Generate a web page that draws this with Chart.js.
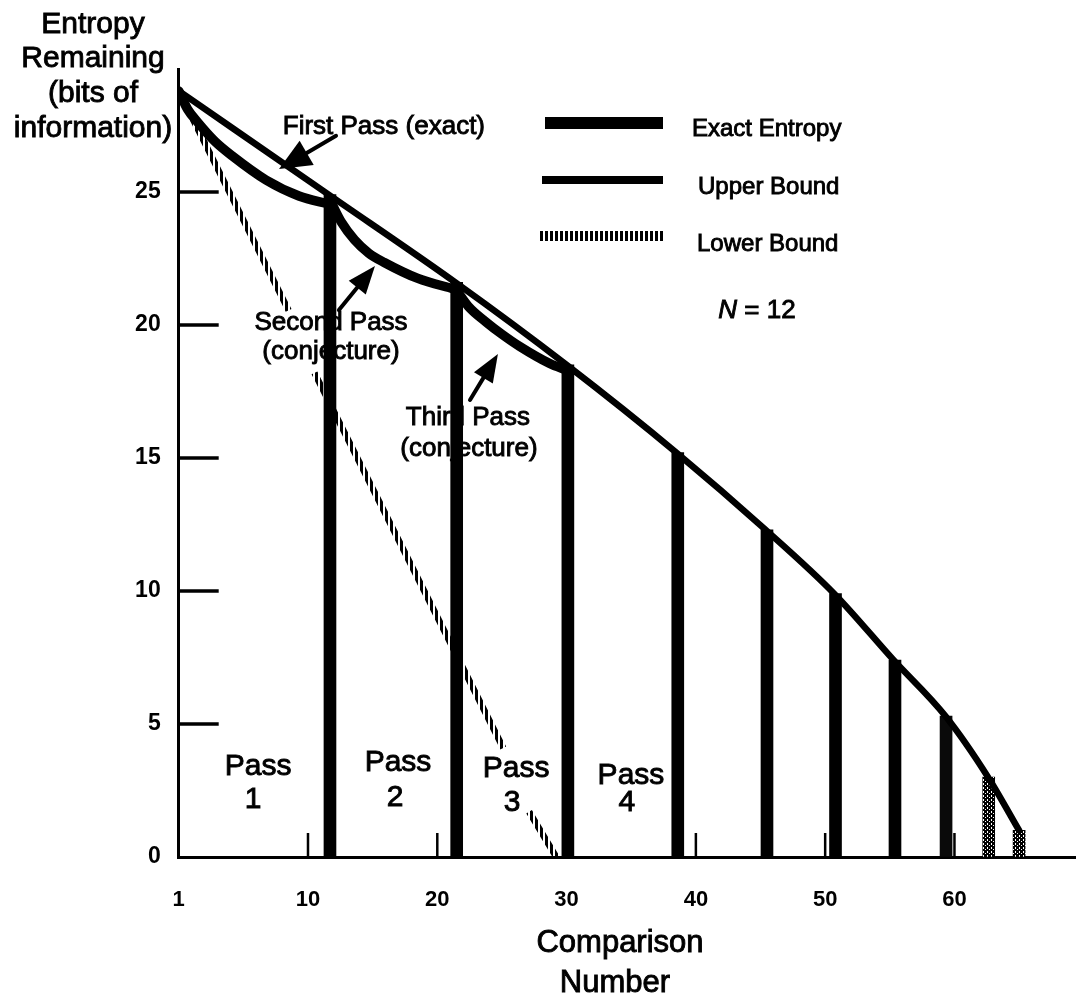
<!DOCTYPE html>
<html>
<head>
<meta charset="utf-8">
<script src="https://cdn.jsdelivr.net/npm/chart.js@4/dist/chart.umd.min.js"></script>
<style>
html,body{margin:0;padding:0;background:#fff;overflow:hidden}
#wrap{position:relative;width:1076px;height:1006px}
</style>
</head>
<body>
<div id="wrap"><canvas id="c"></canvas></div>
<script>
// ---------------- data ----------------
const upperX = [0, 11.6, 21.4, 30.0, 38.5, 45.4, 50.7, 55.3, 59.3, 62.6, 65.0];
const upperY = [28.8, 24.9, 21.6, 18.5, 15.2, 12.3, 9.9, 7.4, 5.3, 3.0, 1.0];

const pass1X = [0, 0.7, 1.5, 2.8, 4.15, 6.75, 9.3, 11.6];
const pass1Y = [28.8, 28.1, 27.6, 26.9, 26.35, 25.45, 24.85, 24.55];
const pass2X = [11.7, 12.6, 13.6, 14.7, 15.9, 18.5, 21.3];
const pass2Y = [24.7, 23.85, 23.2, 22.7, 22.35, 21.75, 21.35];
const pass3X = [21.5, 22.4, 23.8, 25.0, 26.35, 28.7, 30.0];
const pass3Y = [21.3, 20.7, 20.1, 19.65, 19.2, 18.55, 18.3];

const barX = [11.7, 21.5, 30.1, 38.6, 45.5, 50.8, 55.4, 59.35, 62.65, 65.0];
const barY = [24.9, 21.6, 18.5, 15.2, 12.3, 9.9, 7.4, 5.3, 3.0, 1.0];

const lowerX = [0, 8.5, null, 10.5, 25.1, null, 27.1, 29.2];
const lowerY = [28.8, 20.55, null, 18.2, 4.1, null, 1.7, 0];

const xTicks = [0, 10, 20, 30, 40, 50, 60];
const xTickLabels = ['1', '10', '20', '30', '40', '50', '60'];
const yTicks = [0, 5, 10, 15, 20, 25];

const legendLabels = ['Exact Entropy', 'Upper Bound', 'Lower Bound'];
const yTitleLines = ['Entropy', 'Remaining', '(bits of', 'information)'];
const xTitleLines = ['Comparison', 'Number'];

// annotation texts placed in data units
const notes = [
  {t: 'First Pass (exact)', x: 15.87, y: 27.44},
  {t: 'Second Pass', x: 11.78, y: 20.08},
  {t: '(conjecture)', x: 11.78, y: 18.98},
  {t: 'Third Pass', x: 22.37, y: 16.50},
  {t: '(conjecture)', x: 22.45, y: 15.34}
];
const passNotes = [
  {t: 'Pass', x: 6.14, y: 3.38}, {t: '1', x: 5.75, y: 2.14},
  {t: 'Pass', x: 16.96, y: 3.53}, {t: '2', x: 16.73, y: 2.22},
  {t: 'Pass', x: 26.09, y: 3.31}, {t: '3', x: 25.78, y: 2.03},
  {t: 'Pass', x: 34.98, y: 3.05}, {t: '4', x: 34.67, y: 2.03}
];
const arrows = [
  {x1: 12.17, y1: 27.11, x2: 7.76, y2: 25.86, head: 32, hw: 14},
  {x1: 12.39, y1: 20.56, x2: 15.18, y2: 22.22, head: 28, hw: 11},
  {x1: 22.53, y1: 17.18, x2: 24.69, y2: 18.91, head: 28, hw: 11}
];
const nNote = {x: 44.73, y: 20.53};

// ---------------- styling ----------------
const FONT = "'Liberation Sans', Arial, Helvetica, sans-serif";
Chart.defaults.font.family = FONT;
Chart.defaults.color = '#000';

const canvas = document.getElementById('c');
const c2d = canvas.getContext('2d');
function tile(w, h, paint) {
  const t = document.createElement('canvas'); t.width = w; t.height = h;
  const g = t.getContext('2d'); paint(g); return c2d.createPattern(t, 'repeat');
}
const hatch = tile(5, 5, g => { g.fillStyle = '#000'; g.fillRect(0, 0, 3, 5); });
const stipple = tile(4, 4, g => { g.fillStyle = '#000'; g.fillRect(0, 0, 4, 4);
  g.fillStyle = '#fff'; g.fillRect(1, 1, 1, 1); g.fillRect(3, 3, 1, 1); g.fillRect(3, 0, 1, 1); });

const barColors = ['#000', '#000', '#000', '#000', '#000', '#000', '#000', '#0a0a0a', stipple, stipple];

const pts = (xs, ys) => xs.map((x, i) => (x === null ? {x: null, y: null} : {x: x, y: ys[i]}));

const lineBase = {type: 'line', borderColor: '#000', pointRadius: 0, fill: false,
  cubicInterpolationMode: 'monotone', borderCapStyle: 'round', borderJoinStyle: 'round'};

function drawArrow(ctx, x1, y1, x2, y2, head, hw) {
  const a = Math.atan2(y2 - y1, x2 - x1);
  const bx = x2 - head * Math.cos(a), by = y2 - head * Math.sin(a);
  ctx.lineWidth = 4;
  ctx.beginPath(); ctx.moveTo(x1, y1); ctx.lineTo(bx, by); ctx.stroke();
  ctx.beginPath();
  ctx.moveTo(x2, y2);
  ctx.lineTo(bx + hw * Math.sin(a), by - hw * Math.cos(a));
  ctx.lineTo(bx - hw * Math.sin(a), by + hw * Math.cos(a));
  ctx.closePath(); ctx.fill();
}
function boldText(ctx, t, x, y) {
  ctx.fillText(t, x, y);
  ctx.lineWidth = 0.9; ctx.strokeText(t, x, y);
}

const decor = {
  id: 'decor',
  beforeDatasetsDraw(chart) {
    const {ctx} = chart; const xs = chart.scales.x, ys = chart.scales.y;
    ctx.save(); ctx.strokeStyle = '#000'; ctx.lineCap = 'butt';
    ctx.lineWidth = 3.5;
    yTicks.forEach(v => { if (v === 0) return; const p = ys.getPixelForValue(v);
      ctx.beginPath(); ctx.moveTo(xs.left, p); ctx.lineTo(xs.left + 40, p); ctx.stroke(); });
    ctx.lineWidth = 2.5;
    xTicks.forEach(v => { if (v === 0) return; const p = xs.getPixelForValue(v);
      ctx.beginPath(); ctx.moveTo(p, ys.bottom); ctx.lineTo(p, ys.bottom - 24); ctx.stroke(); });
    ctx.restore();
  },
  afterDatasetsDraw(chart) {
    const {ctx} = chart; const xs = chart.scales.x, ys = chart.scales.y;
    ctx.save();
    ctx.fillStyle = '#000'; ctx.strokeStyle = '#000'; ctx.lineCap = 'round';
    arrows.forEach(a => drawArrow(ctx, xs.getPixelForValue(a.x1), ys.getPixelForValue(a.y1),
      xs.getPixelForValue(a.x2), ys.getPixelForValue(a.y2), a.head, a.hw));
    ctx.textAlign = 'center'; ctx.textBaseline = 'middle';
    ctx.font = '26px ' + FONT;
    notes.forEach(n => boldText(ctx, n.t, xs.getPixelForValue(n.x), ys.getPixelForValue(n.y)));
    ctx.font = '30px ' + FONT;
    passNotes.forEach(n => boldText(ctx, n.t, xs.getPixelForValue(n.x), ys.getPixelForValue(n.y)));
    // N = 12
    const nx = xs.getPixelForValue(nNote.x), ny = ys.getPixelForValue(nNote.y);
    ctx.font = 'italic 26px ' + FONT; const w1 = ctx.measureText('N').width;
    ctx.font = '26px ' + FONT; const w2 = ctx.measureText(' = 12').width;
    ctx.textAlign = 'left';
    ctx.font = 'italic 26px ' + FONT; boldText(ctx, 'N', nx - (w1 + w2) / 2, ny);
    ctx.font = '26px ' + FONT; boldText(ctx, ' = 12', nx - (w1 + w2) / 2 + w1, ny);
    ctx.restore();
  },
  afterDraw(chart) {
    const {ctx} = chart;
    ctx.save(); ctx.fillStyle = '#000';
    // legend
    const samples = [
      {y: 123, x1: 545, x2: 663, w: 12, c: '#000'},
      {y: 180, x1: 542, x2: 663, w: 8, c: '#000'},
      {y: 236, x1: 540, x2: 664, w: 10, c: hatch}
    ];
    const texts = [{x: 692, y: 129}, {x: 698, y: 187}, {x: 697, y: 244}];
    samples.forEach((s, i) => {
      ctx.strokeStyle = s.c; ctx.lineWidth = s.w; ctx.lineCap = 'butt';
      ctx.beginPath(); ctx.moveTo(s.x1, s.y); ctx.lineTo(s.x2, s.y); ctx.stroke();
      ctx.strokeStyle = '#000';
      ctx.font = '24px ' + FONT; ctx.textAlign = 'left'; ctx.textBaseline = 'middle';
      boldText(ctx, legendLabels[i], texts[i].x, texts[i].y);
    });
    // y title
    ctx.textAlign = 'center'; ctx.font = '30px ' + FONT; ctx.strokeStyle = '#000';
    const yt = [25, 59, 94, 129];
    yTitleLines.forEach((t, i) => boldText(ctx, t, 93, yt[i]));
    // x title
    ctx.font = '31px ' + FONT;
    boldText(ctx, xTitleLines[0], 620, 943);
    boldText(ctx, xTitleLines[1], 615, 983);
    ctx.restore();
  }
};

new Chart(canvas, {
  type: 'line',
  data: {
    datasets: [
      Object.assign({}, lineBase, {label: 'Exact Entropy pass 1', data: pts(pass1X, pass1Y), borderWidth: 9.5, order: 1}),
      Object.assign({}, lineBase, {label: 'Exact Entropy pass 2', data: pts(pass2X, pass2Y), borderWidth: 9.5, order: 1}),
      Object.assign({}, lineBase, {label: 'Exact Entropy pass 3', data: pts(pass3X, pass3Y), borderWidth: 9.5, order: 1}),
      Object.assign({}, lineBase, {label: 'Upper Bound', data: pts(upperX, upperY), borderWidth: 6.5, order: 2}),
      {type: 'bar', label: 'Exact Entropy', data: pts(barX, barY), backgroundColor: barColors,
        borderWidth: 0, barThickness: 12, order: 3},
      {type: 'line', label: 'Lower Bound', data: pts(lowerX, lowerY), borderColor: hatch,
        borderWidth: 6.5, pointRadius: 0, tension: 0, spanGaps: false, fill: false, order: 4}
    ]
  },
  options: {
    responsive: true, maintainAspectRatio: false, animation: false, events: [],
    layout: {padding: {top: 69.6, right: 0, left: 0, bottom: 0}},
    plugins: {legend: {display: false}, tooltip: {enabled: false}, title: {display: false}},
    scales: {
      x: {
        type: 'linear', min: 0, max: 69.4, offset: false,
        afterBuildTicks: s => { s.ticks = xTicks.map(v => ({value: v})); },
        ticks: {callback: (v, i) => xTickLabels[i], font: {size: 22, weight: 'bold'}, color: '#000',
          padding: 30, maxRotation: 0, autoSkip: false},
        grid: {drawOnChartArea: false, drawTicks: false},
        border: {display: true, color: '#000', width: 3},
        afterFit: s => { s.height = 1006 - 857; }
      },
      y: {
        type: 'linear', min: 0, max: 29.6,
        afterBuildTicks: s => { s.ticks = yTicks.map(v => ({value: v})); },
        ticks: {font: {size: 23, weight: 'bold'}, color: '#000', padding: 18},
        grid: {drawOnChartArea: false, drawTicks: false},
        border: {display: true, color: '#000', width: 3},
        afterFit: s => { s.width = 178.7; }
      }
    }
  },
  plugins: [decor]
});
</script>
</body>
</html>
